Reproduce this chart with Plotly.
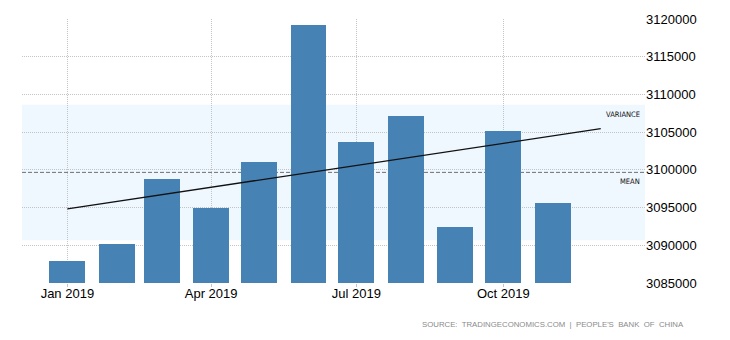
import numpy as np
import pandas as pd
import plotly.graph_objects as go

# Monthly series, 2019
months = ["2019-01-01", "2019-02-01", "2019-03-01", "2019-04-01", "2019-05-01",
          "2019-06-01", "2019-07-01", "2019-08-01", "2019-09-01", "2019-10-01",
          "2019-11-01"]
values = [3087900, 3090200, 3098800, 3095000, 3101100, 3119200,
          3103700, 3107200, 3092400, 3105200, 3095600]

tick_dates = ["2019-01-01", "2019-04-01", "2019-07-01", "2019-10-01"]
tick_text = ["Jan 2019", "Apr 2019", "Jul 2019", "Oct 2019"]
y_ticks = [3085000, 3090000, 3095000, 3100000, 3105000, 3110000, 3115000, 3120000]

# Summary statistics
vals = np.array(values, dtype=float)
mean = vals.mean()
std = vals.std(ddof=1)

# Linear trend over month index, drawn from January through December
idx = np.arange(len(vals))
slope, intercept = np.polyfit(idx, vals, 1)
trend_x = [months[0], "2019-12-01"]
trend_y = [intercept, intercept + slope * len(vals)]

BAR = "#4682B4"
GRID = "#c4c4c4"
DOT = "1px,1px"
FONT = "Liberation Sans Narrow, Liberation Sans, Arial, sans-serif"

fig = go.Figure()
fig.add_trace(go.Bar(
    x=pd.to_datetime(months), y=values,
    width=22.5 * 86400000,
    marker=dict(color=BAR, line=dict(width=0)),
    hoverinfo="x+y",
))
fig.add_trace(go.Scatter(
    x=pd.to_datetime(trend_x), y=trend_y, mode="lines",
    line=dict(color="#111111", width=1.3),
    hoverinfo="skip",
))

# Mean ± standard deviation band and dashed mean line
fig.add_shape(type="rect", xref="paper", x0=0, x1=1, yref="y",
              y0=mean - std, y1=mean + std,
              fillcolor="#F0F8FF", line=dict(width=0), layer="below")
fig.add_shape(type="line", xref="paper", x0=0, x1=1, yref="y",
              y0=mean, y1=mean,
              line=dict(color="#6f6f6f", width=1, dash="4px,2px"), layer="between")

fig.add_annotation(xref="paper", x=0.9955, yref="y", y=mean + std,
                   text="VARIANCE", showarrow=False, xanchor="right",
                   yanchor="top", yshift=-3,
                   font=dict(family="DejaVu Sans Condensed, Liberation Sans, sans-serif",
                             size=7.5, color="#111111"))
fig.add_annotation(xref="paper", x=0.9955, yref="y", y=mean,
                   text="MEAN", showarrow=False, xanchor="right",
                   yanchor="top", yshift=-3,
                   font=dict(family="DejaVu Sans Condensed, Liberation Sans, sans-serif",
                             size=7.5, color="#111111"))
fig.add_annotation(xref="paper", x=1.066, xanchor="right",
                   yref="paper", y=-0.159, yanchor="middle",
                   text="SOURCE:\u00a0 TRADINGECONOMICS.COM\u00a0 |\u00a0 PEOPLE'S\u00a0 BANK\u00a0 OF\u00a0 CHINA",
                   showarrow=False,
                   font=dict(family="Liberation Sans, Arial, sans-serif",
                             size=7.8, color="#8a8a8a"))

fig.update_layout(
    width=730, height=340,
    margin=dict(l=22, r=85, t=19, b=57),
    paper_bgcolor="white", plot_bgcolor="white",
    showlegend=False, bargap=0,
    font=dict(family=FONT, size=13, color="#000000"),
    xaxis=dict(
        type="date",
        range=["2018-12-03 14:00", "2019-12-28 17:00"],
        tickvals=pd.to_datetime(tick_dates), ticktext=tick_text,
        showgrid=True, gridcolor=GRID, griddash=DOT, gridwidth=1,
        ticks="outside", ticklen=3, tickcolor=GRID,
        ticklabelstandoff=-5,
        showline=False, zeroline=False,
        tickfont=dict(family=FONT, size=13, color="#000000"),
    ),
    yaxis=dict(
        side="right",
        range=[3085000, 3120000],
        tickvals=y_ticks, ticktext=[str(v) for v in y_ticks],
        showgrid=True, gridcolor=GRID, griddash=DOT, gridwidth=1,
        showline=False, zeroline=False, ticks="",
        tickfont=dict(family=FONT, size=13, color="#000000"),
    ),
)

fig.write_html("out.html")
